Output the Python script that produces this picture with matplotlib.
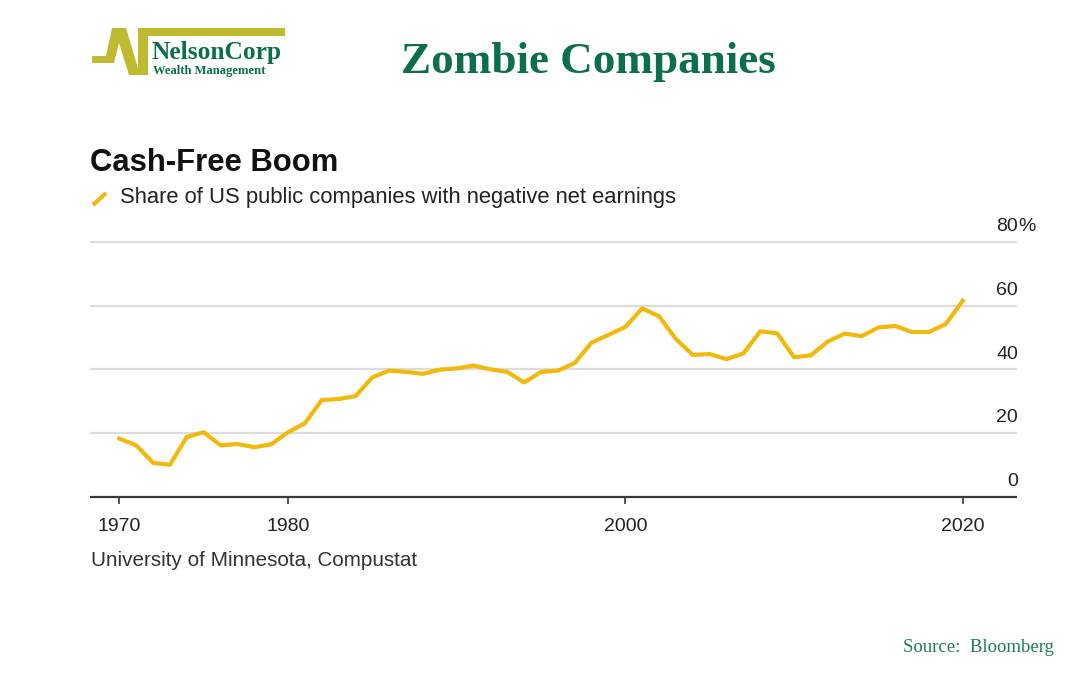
import numpy as np
import matplotlib.pyplot as plt
from matplotlib.patches import Polygon

# share of US public companies with negative net earnings (%)
years = list(range(1970, 2021))
share = [18.3, 16.2, 10.7, 10.1, 18.8, 20.3, 16.2, 16.6, 15.6, 16.5,
         20.3, 23.1, 30.4, 30.7, 31.6, 37.5, 39.6, 39.2, 38.6, 39.9,
         40.3, 41.2, 40.0, 39.2, 35.9, 39.2, 39.6, 42.0, 48.4, 50.8,
         53.3, 59.1, 56.6, 49.5, 44.5, 44.8, 43.2, 45.0, 51.9, 51.3,
         43.8, 44.4, 48.7, 51.2, 50.4, 53.1, 53.6, 51.7, 51.7, 54.2, 61.5]

x_ticks = [1970, 1980, 2000, 2020]
y_ticks = [0, 20, 40, 60, 80]
y_labels = ['0', '20', '40', '60', '80']

title = 'Zombie Companies'
chart_title = 'Cash-Free Boom'
subtitle = 'Share of US public companies with negative net earnings'
note = 'University of Minnesota, Compustat'
source = 'Source:  Bloomberg'

W, H = 1080, 675
line_col = '#F3B80C'
green = '#0B6E4F'
olive = '#BFBA30'
sans = ['Liberation Sans', 'DejaVu Sans']
serif = ['Liberation Serif', 'DejaVu Serif']

fig = plt.figure(figsize=(W / 100, H / 100), dpi=100)
fig.patch.set_facecolor('white')

# chart area in pixels: left 91, right 1016, bottom 497, top (80%) 241.7
ax = fig.add_axes([91 / W, 1 - 497 / H, (1016 - 91) / W, (497 - 241.7) / H])
ax.plot(years, share, color=line_col, lw=3, solid_joinstyle='round', zorder=3)
ax.set_xlim(1968.32, 2023.16)
ax.set_ylim(0, 80)

for v in y_ticks[1:]:
    ax.axhline(v, color='#dcdcdc', lw=1.6, zorder=1, clip_on=False)

for s in ['top', 'right', 'left']:
    ax.spines[s].set_visible(False)
ax.spines['bottom'].set_color('#3a3a3a')
ax.spines['bottom'].set_linewidth(1.6)

ax.set_xticks(x_ticks)
ax.set_xticklabels([str(t) for t in x_ticks], fontfamily=sans, fontsize=14, color='#222222')
ax.tick_params(axis='x', direction='out', length=5, width=1.2, color='#3a3a3a', pad=10)
ax.set_yticks([])

ytr = ax.get_yaxis_transform()
xr = (1018 - 91) / (1016 - 91)
for v, lab in zip(y_ticks, y_labels):
    ax.annotate(lab, xy=(xr, v), xycoords=ytr, xytext=(0, 11), textcoords='offset points',
                ha='right', va='center', fontsize=14, color='#222222', fontfamily=sans,
                annotation_clip=False)
ax.annotate('%', xy=(xr, y_ticks[-1]), xycoords=ytr, xytext=(0.5, 11), textcoords='offset points',
            ha='left', va='center', fontsize=14, color='#222222', fontfamily=sans,
            annotation_clip=False)

# overlay in pixel coordinates for titles, notes and the logo
ov = fig.add_axes([0, 0, 1, 1])
ov.set_xlim(0, W)
ov.set_ylim(H, 0)
ov.axis('off')

ov.text(588, 73, title, ha='center', va='baseline', fontsize=32.5, fontweight='bold',
        color=green, fontfamily=serif)
ov.text(90, 171, chart_title, ha='left', va='baseline', fontsize=22.3, fontweight='bold',
        color='#111111', fontfamily=sans)
ov.plot([93, 106], [205, 193], color=line_col, lw=3, solid_capstyle='butt')
ov.text(120, 198, subtitle, ha='left', va='center', fontsize=15.8, color='#222222', fontfamily=sans)
ov.text(91, 561, note, ha='left', va='center', fontsize=14.9, color='#333333', fontfamily=sans)
ov.text(1054, 648, source, ha='right', va='center', fontsize=13.5, color='#1f7a5a', fontfamily=serif)

# NelsonCorp logo
ov.add_patch(Polygon([(138, 28), (285, 28), (285, 36), (138, 36)], closed=True, color=olive, lw=0))
ov.add_patch(Polygon([(138, 28), (148, 28), (148, 75), (138, 75)], closed=True, color=olive, lw=0))
ov.add_patch(Polygon([(92, 56), (106, 56), (112, 28), (126, 28), (140, 75), (129, 75),
                      (119, 43), (114, 63), (92, 63)], closed=True, color=olive, lw=0))
ov.text(152, 59, 'NelsonCorp', ha='left', va='baseline', fontsize=18.3, fontweight='bold',
        color=green, fontfamily=serif)
ov.text(153, 74, 'Wealth Management', ha='left', va='baseline', fontsize=9.1, fontweight='bold',
        color=green, fontfamily=serif)

fig.savefig('out.png', dpi=100, facecolor='white')
